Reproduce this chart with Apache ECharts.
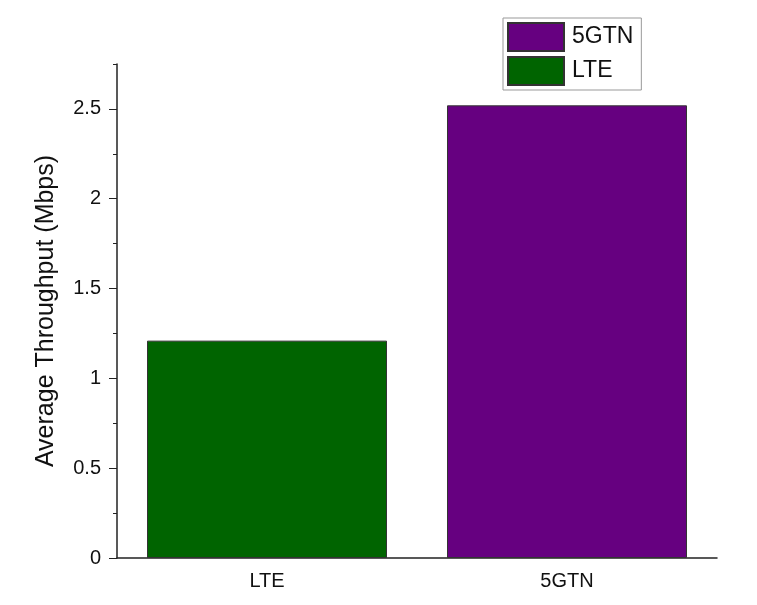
<!DOCTYPE html>
<html>
<head>
<meta charset="utf-8">
<script src="https://cdn.jsdelivr.net/npm/echarts@6/dist/echarts.min.js"></script>
<style>
  html, body { margin: 0; padding: 0; background: #fff; }
  #chart { width: 757px; height: 605px; }
</style>
</head>
<body>
<div id="chart"></div>
<script>
// data
const categories = ['LTE', '5GTN']
const throughput = [1.21, 2.52]
const barColors = ['#006400', '#660080']
const legendOrder = ['5GTN', 'LTE']
const yTicks = [0, 0.5, 1, 1.5, 2, 2.5]

const font = 'Liberation Sans, Arial, sans-serif'

// one series per category so each gets its own legend entry
const series = categories.map((name, i) => ({
  name: name,
  type: 'bar',
  barWidth: '80%',
  barGap: '-100%',
  data: categories.map((c, j) => (j === i ? throughput[i] : '-')),
  itemStyle: {
    color: barColors[i],
    borderColor: '#333',
    borderWidth: 1
  }
}))

const chart = echarts.init(document.getElementById('chart'))
chart.setOption({
  animation: false,
  backgroundColor: '#fff',
  textStyle: { fontFamily: font },
  grid: { left: 117, right: 40, top: 64, bottom: 47, containLabel: false },
  legend: {
    data: legendOrder,
    orient: 'vertical',
    left: 503,
    top: 18,
    itemWidth: 56,
    itemHeight: 28,
    itemGap: 4,
    icon: 'rect',
    padding: [4, 8, 4, 4],
    borderColor: '#999',
    borderWidth: 1,
    textStyle: { fontSize: 23, color: '#111', fontFamily: font, padding: [0, 0, 0, 3] }
  },
  xAxis: [
    {
      type: 'category',
      data: categories,
      axisLine: { lineStyle: { color: '#222', width: 1.5 } },
      axisTick: { alignWithLabel: true, length: 8, lineStyle: { color: '#222' } },
      axisLabel: { fontSize: 20, color: '#111', margin: 13, fontFamily: font }
    },
    {
      // boundary ticks between categories
      type: 'category',
      data: categories,
      position: 'bottom',
      axisLine: { show: false },
      axisTick: { length: 4, lineStyle: { color: '#222' } },
      axisLabel: { show: false }
    }
  ],
  yAxis: [
    {
      type: 'value',
      min: 0,
      max: 2.75,
      name: 'Average Throughput (Mbps)',
      nameLocation: 'middle',
      nameGap: 58,
      nameTextStyle: { fontSize: 25, color: '#111', fontFamily: font },
      axisLine: { show: true, lineStyle: { color: '#222', width: 1.5 } },
      axisTick: { show: true, length: 8, customValues: yTicks, lineStyle: { color: '#222' } },
      axisLabel: { fontSize: 20, color: '#111', margin: 16, customValues: yTicks, fontFamily: font },
      splitLine: { show: false }
    },
    {
      // minor ticks every 0.25
      type: 'value',
      min: 0,
      max: 2.75,
      interval: 0.25,
      position: 'left',
      axisLine: { show: false },
      axisTick: { show: true, length: 4, lineStyle: { color: '#222' } },
      axisLabel: { show: false },
      splitLine: { show: false }
    }
  ],
  series: series
})
</script>
</body>
</html>
